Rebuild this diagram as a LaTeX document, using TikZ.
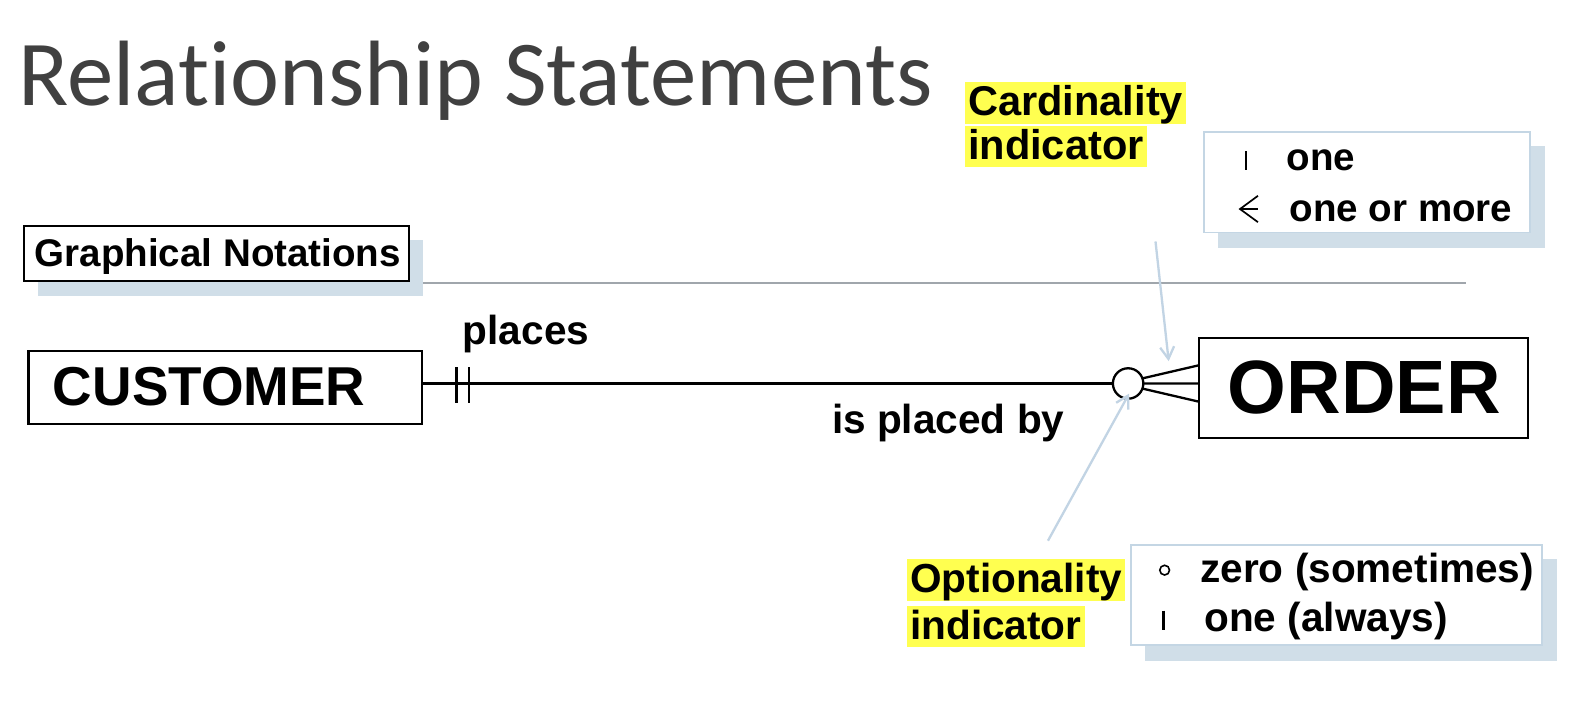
\documentclass[tikz,border=0pt]{standalone}
\usepackage{fontspec}
\setmainfont{Liberation Sans}
\newfontfamily\titlefont[Ligatures=NoCommon]{Carlito}
\usetikzlibrary{arrows.meta}
\definecolor{shadowc}{RGB}{208,222,232}
\definecolor{legendc}{RGB}{196,214,228}
\definecolor{arrowc}{RGB}{194,212,228}
\definecolor{hilite}{RGB}{255,255,80}
\definecolor{titlec}{RGB}{64,64,64}
\definecolor{rulec}{RGB}{160,166,172}
\tikzset{
  lbl/.style={inner sep=0pt, anchor=base west, font=\fontsize{40}{42}\selectfont\bfseries},
  smalllbl/.style={lbl, font=\fontsize{38}{40}\selectfont\bfseries},
  hlbl/.style={lbl, fill=hilite, inner xsep=3pt, inner ysep=0pt, text height=33pt, text depth=8pt},
  entity/.style={draw=black, line width=2.2pt},
  shadowbox/.style={fill=shadowc, draw=none},
  legendbox/.style={fill=white, draw=legendc, line width=1.5pt},
  rel/.style={line width=2.3pt},
  pointer/.style={draw=arrowc, line width=2.3pt, -{Straight Barb[length=12pt,width=14pt,line width=2.3pt]}},
}
\begin{document}
\begin{tikzpicture}[x=1pt,y=-1pt,scale=1.0145,transform shape]
\useasboundingbox (0,0) rectangle (1567.3,709.7);
\fill[white] (0,0) rectangle (1567.3,709.7);
% title
\node[inner sep=0pt, anchor=base west, font=\titlefont\fontsize{91.5}{93}\selectfont, text=titlec] (title) at (18,104) {Relationship Statements};
% gray rule
\draw[rulec, line width=1.3pt] (417,279) -- (1445,279);
% Graphical notations box
\fill[shadowbox] (37,237) rectangle (417,292);
\draw[entity, fill=white] (24,223) rectangle (403,277);
\node[smalllbl] (gn) at (34,263) {Graphical Notations};
% cardinality indicator
\node[hlbl, font=\fontsize{41}{43}\selectfont\bfseries] (card1) at (951,114) {Cardinality};
\node[hlbl, font=\fontsize{41}{43}\selectfont\bfseries] (card2) at (951,157) {indicator};
% cardinality legend
\fill[shadowbox] (1201,144) rectangle (1523,244);
\draw[legendbox] (1187,130) rectangle (1508,229);
\draw[line width=2.5pt] (1228,149) -- (1228,168);
\node[smalllbl] (one) at (1268,168) {one};
\coordinate (ftip) at (1222,206);
\draw[line width=1.7pt] (1240,193) -- (ftip) -- (1240,219);
\draw[line width=1.7pt] (ftip) -- (1240,206);
\node[smalllbl] (onemore) at (1271,218) {one or more};
% entities
\draw[entity] (28,346) rectangle (416,418);
\node[lbl, font=\fontsize{54}{56}\selectfont\bfseries] (custt) at (52,400) {CUSTOMER};
\draw[entity] (1182,333) rectangle (1506,432);
\node[lbl, font=\fontsize{74.5}{76}\selectfont\bfseries] (ordert) at (1210,408) {ORDER};
\coordinate (custR) at (416,378);
\coordinate (circL) at (1097,378);
\draw[rel] (custR) -- (circL);
\draw[rel] (450,362) -- (450,397);
\draw[rel] (462,362) -- (462,397);
\draw[rel] (1112,378) circle (15);
\coordinate (ordL) at (1182,378);
\draw[rel] (1126,373) -- (1182,360);
\draw[rel] (1127,378) -- (ordL);
\draw[rel] (1126,383) -- (1182,396);
\node[lbl] (places) at (456,340) {places};
\node[lbl] (placedby) at (820,427) {is placed by};
% pointers
\draw[pointer] (1139,238) -- (1152,356);
\draw[pointer] (1033,533) -- (1113,388);
% optionality indicator
\node[hlbl] (opt1) at (894,584) {Optionality};
\node[hlbl] (opt2) at (894,630) {indicator};
% optionality legend
\fill[shadowbox] (1129,551) rectangle (1535,652);
\draw[legendbox] (1115,537) rectangle (1520,636);
\draw[line width=1.6pt] (1148,562) circle (4.8);
\node[lbl] (zero) at (1183,574) {zero (sometimes)};
\draw[line width=2.5pt] (1147,602) -- (1147,621);
\node[lbl] (onealw) at (1187,622) {one (always)};
\end{tikzpicture}
\end{document}
